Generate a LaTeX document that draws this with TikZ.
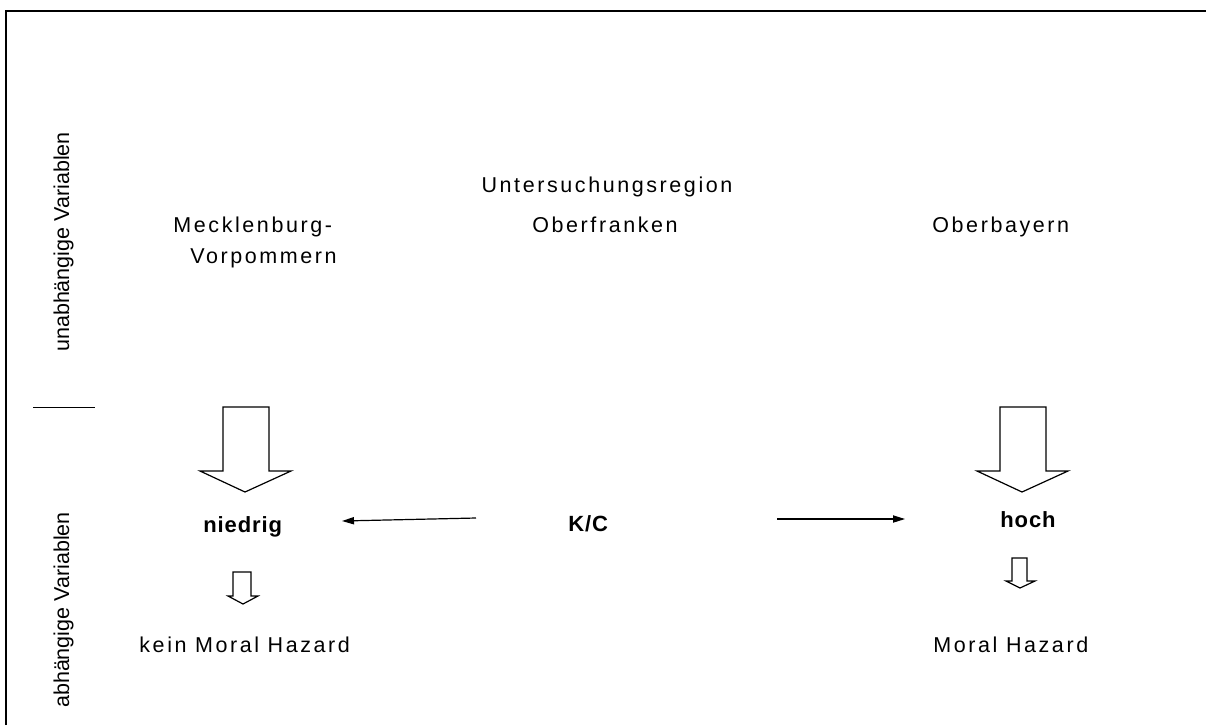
\documentclass[tikz,border=0pt]{standalone}
\usepackage{fontspec}
\setmainfont{Liberation Sans}
\newfontfamily\spacedfont[LetterSpace=12]{Liberation Sans}
\newfontfamily\spacedbold[LetterSpace=4]{Liberation Sans Bold}
\usetikzlibrary{arrows.meta}

\tikzset{
  lbl/.style={inner sep=0pt, font=\spacedfont\fontsize{10.75}{13}\selectfont},
  bld/.style={inner sep=0pt, font=\spacedbold\fontsize{11}{13}\selectfont},
  vlbl/.style={inner sep=0pt, rotate=90, anchor=base, font=\fontsize{10.75}{13}\selectfont},
  blockarrow/.style={draw, line width=0.6pt, fill=white, line join=miter},
  link/.style={draw, line width=0.6pt, -{Triangle[length=6pt,width=3.6pt]}},
  frameline/.style={draw, line width=1pt}
}

\begin{document}
\begin{tikzpicture}[x=0.5pt,y=-0.5pt]
  % canvas
  \fill[white] (0,0) rectangle (1206,725);
  \useasboundingbox (0,0) rectangle (1206,725);

  % frame, open to the right and bottom
  \draw[frameline] (5.5,725) -- (5.5,10.5) -- (1206,10.5);

  % axis labels and divider
  \node[vlbl] (indep) at (69,242) {unabhängige Variablen};
  \node[vlbl] (dep) at (69,610) {abhängige Variablen};
  \draw[line width=0.5pt] (33,407) -- (95,407);

  % regions
  \node[lbl, anchor=base] (region) at (607,192) {Untersuchungsregion};
  \node[lbl, anchor=base] (ofr) at (605,232) {Oberfranken};
  \node[lbl, anchor=base west] (mv1) at (173,232) {Mecklenburg-};
  \node[lbl, anchor=base west] (mv2) at (190,263) {Vorpommern};
  \node[lbl, anchor=base west] (obb) at (932,232) {Oberbayern};

  % large block arrows
  \draw[blockarrow] (223,407) -- (269,407) -- (269,471) -- (291,471)
    -- (245,492) -- (200,471) -- (223,471) -- cycle;
  \draw[blockarrow] (1000,407) -- (1046,407) -- (1046,471) -- (1068,471)
    -- (1022,492) -- (977,471) -- (1000,471) -- cycle;

  % K/C level
  \node[bld, anchor=base west] (low) at (203,532) {niedrig};
  \node[bld, anchor=base west] (kc) at (568,531) {K/C};
  \node[bld, anchor=base west] (high) at (1000,527) {hoch};

  \coordinate (kcL) at (476,518);
  \coordinate (lowR) at (342,521);
  \coordinate (kcR) at (777,519);
  \coordinate (highL) at (905,519);
  \draw[link] (kcL) -- (lowR);
  \draw[link] (kcR) -- (highL);

  % small block arrows
  \draw[blockarrow] (233,572) -- (251,572) -- (251,596) -- (258,596)
    -- (243,604) -- (228,596) -- (233,596) -- cycle;
  \draw[blockarrow] (1012,558) -- (1027,558) -- (1027,581) -- (1035,581)
    -- (1020,588) -- (1006,581) -- (1012,581) -- cycle;

  % outcomes
  \node[lbl, anchor=base west] (nomh) at (139,652) {kein Moral Hazard};
  \node[lbl, anchor=base west] (mh) at (933,652) {Moral Hazard};
\end{tikzpicture}
\end{document}
